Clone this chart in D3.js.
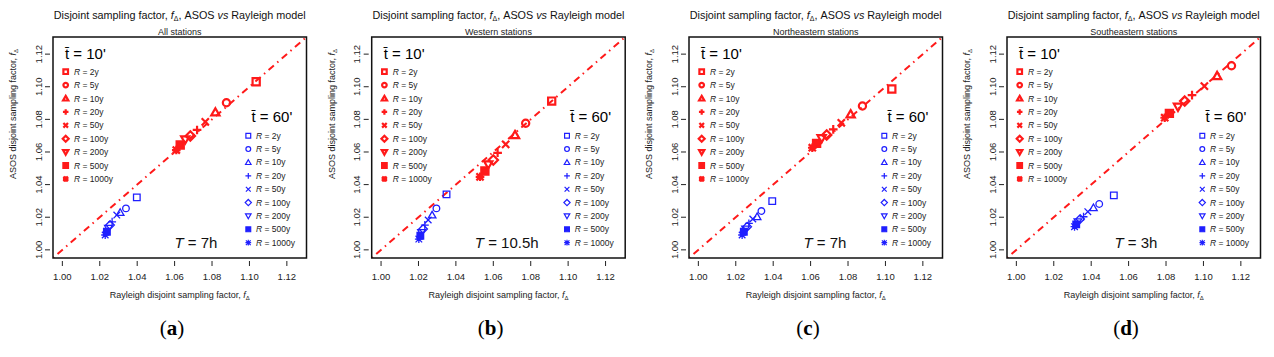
<!DOCTYPE html>
<html lang="en">
<head>
<meta charset="UTF-8" />
<title>Disjoint sampling factor, ASOS vs Rayleigh model</title>
<script src="https://d3js.org/d3.v7.min.js"></script>
<style>
  body { margin: 0; background: #fff; }
  svg { display: block; font-family: "Liberation Sans", Arial, sans-serif; }
</style>
</head>
<body>
<svg id="chart" width="1274" height="357"></svg>
<script>
// --- Data ---
const periods = ["2y", "5y", "10y", "20y", "50y", "100y", "200y", "500y", "1000y"];
const shapes = ["square", "circle", "triangle", "plus", "cross", "diamond", "triangleDown", "squareFilled", "asterisk"];
const regions = ["All stations", "Western stations", "Northeastern stations", "Southeastern stations"];
const durations = ["7h", "10.5h", "7h", "3h"];
const letters = ["a", "b", "c", "d"];
const ticks = [1.00, 1.02, 1.04, 1.06, 1.08, 1.10, 1.12];

// t = 10' (red), one row per panel, one value per return period
const rayleigh10 = [
  [1.1036, 1.0877, 1.0818, 1.0720, 1.0764, 1.0684, 1.0657, 1.0630, 1.0609],
  [1.0912, 1.0773, 1.0716, 1.0623, 1.0666, 1.0600, 1.0573, 1.0555, 1.0529],
  [1.1034, 1.0877, 1.0814, 1.0721, 1.0764, 1.0686, 1.0659, 1.0632, 1.0609],
  [null,   1.1150, 1.1073, 1.0939, 1.1005, 1.0900, 1.0864, 1.0818, 1.0793]
];
const asos10 = [
  [1.1031, 1.0902, 1.0843, 1.0735, 1.0785, 1.0698, 1.0677, 1.0643, 1.0612],
  [1.0912, 1.0776, 1.0704, 1.0595, 1.0647, 1.0551, 1.0524, 1.0483, 1.0448],
  [1.0986, 1.0882, 1.0831, 1.0739, 1.0779, 1.0704, 1.0684, 1.0653, 1.0626],
  [null,   1.1129, 1.1066, 1.0949, 1.1004, 1.0912, 1.0877, 1.0837, 1.0810]
];
// t = 60' (blue)
const rayleigh60 = [
  [1.0398, 1.0340, 1.0309, 1.0266, 1.0291, 1.0255, 1.0246, 1.0238, 1.0229],
  [1.0350, 1.0296, 1.0273, 1.0234, 1.0252, 1.0225, 1.0216, 1.0210, 1.0202],
  [1.0395, 1.0337, 1.0314, 1.0270, 1.0291, 1.0261, 1.0252, 1.0243, 1.0234],
  [1.0521, 1.0443, 1.0412, 1.0359, 1.0382, 1.0341, 1.0329, 1.0320, 1.0311]
];
const asos60 = [
  [1.0322, 1.0254, 1.0229, 1.0172, 1.0213, 1.0152, 1.0132, 1.0111, 1.0091],
  [1.0340, 1.0254, 1.0213, 1.0152, 1.0183, 1.0128, 1.0107, 1.0086, 1.0066],
  [1.0299, 1.0238, 1.0203, 1.0162, 1.0189, 1.0142, 1.0128, 1.0111, 1.0091],
  [1.0334, 1.0281, 1.0258, 1.0203, 1.0234, 1.0189, 1.0172, 1.0156, 1.0142]
];

// --- Layout ---
const boxLeft = [53, 371.7, 689, 1007];
const boxW = 253.5, boxTop = 37, boxBottom = 258;
const tLabelX = [143, 135, 136, 129];
const RED = "#ff1a1a", BLUE = "#1f1fff";

const svg = d3.select("#chart");
svg.append("rect").attr("width", 1274).attr("height", 357).attr("fill", "#fff");

const x = d3.scaleLinear().domain([0.995, 1.1305]).range([0, boxW]);
const y = d3.scaleLinear().domain([0.995, 1.1305]).range([boxBottom, boxTop]);

// marker path for R-style pch symbols, r = half size
function symbolPath(shape, r) {
  const p = d3.path();
  switch (shape) {
    case "square":
    case "squareFilled":
      p.rect(-r, -r, 2 * r, 2 * r); break;
    case "circle":
      p.moveTo(r, 0); p.arc(0, 0, r, 0, 2 * Math.PI); break;
    case "triangle": {
      const h = r * 1.15;
      p.moveTo(0, -h); p.lineTo(h, h * 0.75); p.lineTo(-h, h * 0.75); p.closePath(); break;
    }
    case "triangleDown": {
      const h = r * 1.15;
      p.moveTo(0, h); p.lineTo(h, -h * 0.75); p.lineTo(-h, -h * 0.75); p.closePath(); break;
    }
    case "plus":
      p.moveTo(-r * 1.2, 0); p.lineTo(r * 1.2, 0); p.moveTo(0, -r * 1.2); p.lineTo(0, r * 1.2); break;
    case "cross":
      p.moveTo(-r, -r); p.lineTo(r, r); p.moveTo(-r, r); p.lineTo(r, -r); break;
    case "diamond":
      p.moveTo(0, -r * 1.3); p.lineTo(r * 1.3, 0); p.lineTo(0, r * 1.3); p.lineTo(-r * 1.3, 0); p.closePath(); break;
    case "asterisk":
      p.moveTo(-r * 1.2, 0); p.lineTo(r * 1.2, 0); p.moveTo(0, -r * 1.2); p.lineTo(0, r * 1.2);
      p.moveTo(-r, -r); p.lineTo(r, r); p.moveTo(-r, r); p.lineTo(r, -r); break;
  }
  return p.toString();
}

function drawMarker(g, shape, cx, cy, r, color, lw) {
  g.append("path")
    .attr("transform", `translate(${cx},${cy})`)
    .attr("d", symbolPath(shape, r))
    .attr("fill", shape === "squareFilled" ? color : "none")
    .attr("stroke", color)
    .attr("stroke-width", lw)
    .attr("stroke-linejoin", "miter");
}

function tbar(g, tx, ty, txt, size) {
  const t = g.append("text").attr("x", tx).attr("y", ty).attr("font-size", size);
  t.append("tspan").text("t\u0304");
  t.append("tspan").text(" = " + txt);
}

regions.forEach((region, i) => {
  const g = svg.append("g").attr("transform", `translate(${boxLeft[i]},0)`);
  const cx = boxW / 2;

  // titles
  const title = g.append("text").attr("x", cx).attr("y", 18.5)
    .attr("text-anchor", "middle").attr("font-size", 10.8).attr("fill", "#111");
  title.append("tspan").text("Disjoint sampling factor, ");
  title.append("tspan").attr("font-style", "italic").text("f");
  title.append("tspan").attr("font-size", 7).attr("dy", 2.5).text("\u0394");
  title.append("tspan").attr("dy", -2.5).text(", ASOS ");
  title.append("tspan").attr("font-style", "italic").text("vs");
  title.append("tspan").text(" Rayleigh model");

  g.append("text").attr("x", cx).attr("y", 34.5).attr("text-anchor", "middle")
    .attr("font-size", 9).attr("fill", "#222").text(region);

  // axes ticks and labels
  const tk = g.append("g").attr("stroke", "#222").attr("stroke-width", 1);
  ticks.forEach(v => {
    tk.append("line").attr("x1", x(v)).attr("x2", x(v)).attr("y1", boxBottom + 3).attr("y2", boxBottom + 8);
    tk.append("line").attr("y1", y(v)).attr("y2", y(v)).attr("x1", -3).attr("x2", -8);
    g.append("text").attr("x", x(v)).attr("y", 280).attr("text-anchor", "middle")
      .attr("font-size", 9.5).attr("fill", "#222").text(v.toFixed(2));
    g.append("text").attr("transform", `translate(-11.5,${y(v)}) rotate(-90)`)
      .attr("text-anchor", "middle").attr("font-size", 9.5).attr("fill", "#222").text(v.toFixed(2));
  });

  const xl = g.append("text").attr("x", cx).attr("y", 298).attr("text-anchor", "middle")
    .attr("font-size", 9).attr("fill", "#222");
  xl.append("tspan").text("Rayleigh disjoint sampling factor, ");
  xl.append("tspan").attr("font-style", "italic").text("f");
  xl.append("tspan").attr("font-size", 6).attr("dy", 2).text("\u0394");

  const yl = g.append("text").attr("transform", "translate(-37,114) rotate(-90)")
    .attr("text-anchor", "middle").attr("font-size", 9).attr("fill", "#222");
  yl.append("tspan").text("ASOS disjoint sampling factor, ");
  yl.append("tspan").attr("font-style", "italic").text("f");
  yl.append("tspan").attr("font-size", 6).attr("dy", 2).text("\u0394");

  // plot area
  const clipId = "clip" + i;
  g.append("clipPath").attr("id", clipId).append("rect")
    .attr("x", 0).attr("y", boxTop).attr("width", boxW).attr("height", boxBottom - boxTop);
  const plot = g.append("g").attr("clip-path", `url(#${clipId})`);

  plot.append("line")
    .attr("x1", x(0.995)).attr("y1", y(0.995)).attr("x2", x(1.1305)).attr("y2", y(1.1305))
    .attr("stroke", RED).attr("stroke-width", 2).attr("stroke-dasharray", "1.5 4.5 7 4.5");

  periods.forEach((p, k) => {
    if (rayleigh60[i][k] != null)
      drawMarker(plot, shapes[k], x(rayleigh60[i][k]), y(asos60[i][k]), 3.3, BLUE, 1.3);
  });
  periods.forEach((p, k) => {
    if (rayleigh10[i][k] != null)
      drawMarker(plot, shapes[k], x(rayleigh10[i][k]), y(asos10[i][k]), 3.6, RED, 2.2);
  });

  g.append("rect").attr("x", 0).attr("y", boxTop).attr("width", boxW).attr("height", boxBottom - boxTop)
    .attr("fill", "none").attr("stroke", "#111").attr("stroke-width", 1.5);

  // legends
  tbar(g, 12, 58.5, "10'", 15);
  tbar(g, 198.5, 121.5, "60'", 15);
  periods.forEach((p, k) => {
    const ry = 71.7 + k * 13.4;
    drawMarker(g, shapes[k], 12.7, ry, 2.3, RED, 2.2);
    const t1 = g.append("text").attr("x", 21).attr("y", ry + 3).attr("font-size", 8.5).attr("fill", "#222");
    t1.append("tspan").attr("font-style", "italic").text("R");
    t1.append("tspan").text(" = " + p);

    const by = 135.7 + k * 13.375;
    drawMarker(g, shapes[k], 195.3, by, 2.4, BLUE, 1.2);
    const t2 = g.append("text").attr("x", 203).attr("y", by + 3).attr("font-size", 8.5).attr("fill", "#222");
    t2.append("tspan").attr("font-style", "italic").text("R");
    t2.append("tspan").text(" = " + p);
  });

  const tt = g.append("text").attr("x", tLabelX[i]).attr("y", 248).attr("text-anchor", "middle")
    .attr("font-size", 15).attr("fill", "#111");
  tt.append("tspan").attr("font-style", "italic").text("T");
  tt.append("tspan").text(" = " + durations[i]);

  // panel letter
  const lt = g.append("text").attr("x", 119).attr("y", 335).attr("text-anchor", "middle")
    .attr("font-family", "'Liberation Serif', 'Times New Roman', serif").attr("font-size", 21).attr("fill", "#000");
  lt.append("tspan").text("(");
  lt.append("tspan").attr("font-weight", "bold").text(letters[i]);
  lt.append("tspan").text(")");
});
</script>
</body>
</html>
